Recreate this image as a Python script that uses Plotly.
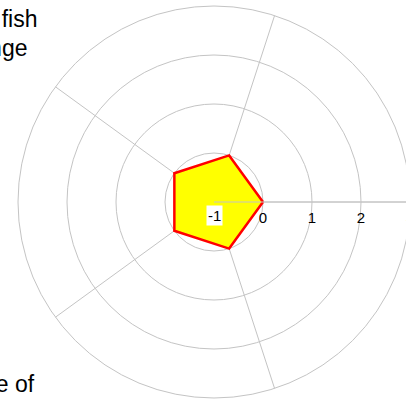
import plotly.graph_objects as go

# ---- data ----
categories = ["Category 1", "Category 2", "Category 3", "Category 4", "Category 5"]
values = [0, 0, 0, 0, 0]
radial_tickvals = [0, 1, 2, 3]
radial_ticktext = ["0", "1", "2", "3"]
radial_range = [-1, 3]
center_label = "-1"
title_lines = ["Size of fish", "Average range", "Percentage of"]

W, H = 412, 401
GRID = "#c4c4c4"
FONT = "Arial, Liberation Sans, sans-serif"
TFS = 23

fig = go.Figure()
fig.add_trace(go.Scatterpolar(
    r=values + values[:1],
    theta=categories + categories[:1],
    mode="lines",
    fill="toself",
    fillcolor="#FFFF00",
    line=dict(color="#FF0000", width=2.5),
    hoverinfo="skip",
))

# polar placement (pixels)
cx, cy, rad = 214, 202, 196
dom_x = [(cx - rad) / W, (cx + rad) / W]
dom_y = [(H - cy - rad) / H, (H - cy + rad) / H]

fig.update_layout(
    width=W, height=H,
    margin=dict(l=0, r=0, t=0, b=0),
    paper_bgcolor="white",
    showlegend=False,
    font=dict(family=FONT, color="#000000"),
    polar=dict(
        domain=dict(x=dom_x, y=dom_y),
        bgcolor="white",
        radialaxis=dict(
            range=radial_range,
            tickvals=radial_tickvals,
            ticktext=radial_ticktext,
            angle=0, tickangle=0,
            showline=True, linecolor=GRID, linewidth=1,
            gridcolor=GRID, gridwidth=1,
            ticks="outside", ticklen=2, tickcolor="rgba(0,0,0,0)",
            tickfont=dict(size=15, color="#000000", family=FONT),
        ),
        angularaxis=dict(
            direction="counterclockwise", rotation=0,
            showticklabels=False, ticks="",
            showline=True, linecolor=GRID, linewidth=1,
            gridcolor=GRID, gridwidth=1,
        ),
    ),
    annotations=[
        dict(text=center_label, xref="paper", yref="paper",
             x=cx / W, y=1 - 215 / H, xanchor="center", yanchor="middle",
             showarrow=False, bgcolor="white",
             font=dict(size=15, color="#000000", family=FONT)),
        dict(text=title_lines[0], xref="paper", yref="paper",
             x=40 / W, y=1 - 19 / H, xanchor="right", yanchor="middle",
             showarrow=False, font=dict(size=TFS, color="#000000", family=FONT)),
        dict(text=title_lines[1], xref="paper", yref="paper",
             x=29 / W, y=1 - 48.5 / H, xanchor="right", yanchor="middle",
             showarrow=False, font=dict(size=TFS, color="#000000", family=FONT)),
        dict(text=title_lines[2], xref="paper", yref="paper",
             x=37 / W, y=1 - 383.5 / H, xanchor="right", yanchor="middle",
             showarrow=False, font=dict(size=TFS, color="#000000", family=FONT)),
    ],
)

fig.write_html("out.html", config={"displayModeBar": False},
               post_script="document.body.style.margin='0px';")
